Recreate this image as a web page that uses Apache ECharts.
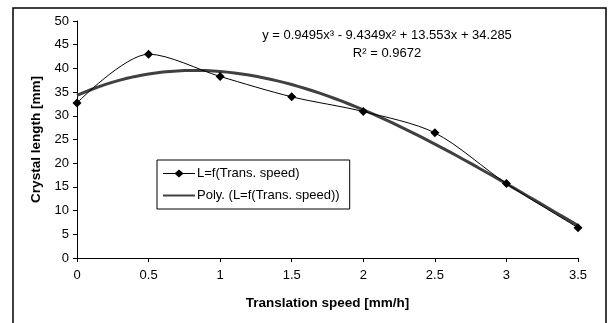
<!DOCTYPE html>
<html>
<head>
<meta charset="utf-8">
<script src="https://cdn.jsdelivr.net/npm/echarts@6/dist/echarts.min.js"></script>
<style>
  html, body { margin: 0; padding: 0; background: #fff; }
  #chart { width: 614px; height: 323px; }
</style>
</head>
<body>
<div id="chart"></div>
<script>
// Measured crystal length against translation speed
var speeds = [0, 0.5, 1, 1.5, 2, 2.5, 3, 3.5];
var lengths = [32.7, 43.0, 38.3, 34.0, 30.9, 26.4, 15.7, 6.4];
var xTicks = [0, 0.5, 1, 1.5, 2, 2.5, 3, 3.5];
var yTicks = [0, 5, 10, 15, 20, 25, 30, 35, 40, 45, 50];

// Cubic trendline coefficients (x^3, x^2, x, const), as printed on the chart
var trendCoeffs = [0.9495, -9.4349, 13.553, 34.285];
var trendR2 = 0.9672;

function polyAt(x) {
  return trendCoeffs[0] * x * x * x + trendCoeffs[1] * x * x + trendCoeffs[2] * x + trendCoeffs[3];
}
var trendPoints = [];
for (var i = 0; i <= 70; i++) {
  var x = i * 0.05;
  trendPoints.push([x, polyAt(x)]);
}

var FONT = '"Liberation Sans", Arial, sans-serif';
var chart = echarts.init(document.getElementById('chart'), null, { renderer: 'canvas' });

// legend icons: thin line with a diamond, and a plain thicker line
var ICON_DATA = 'path://M0,4.5H12L16,1L20,4.5H32V5.5H20L16,9L12,5.5H0Z';
var ICON_TREND = 'path://M0,4H32V6H0Z';

chart.setOption({
  backgroundColor: '#ffffff',
  animation: false,
  grid: { left: 77, right: 36, top: 21, bottom: 65 },
  xAxis: {
    type: 'value',
    min: 0, max: 3.5, interval: 0.5,
    name: 'Translation speed [mm/h]',
    nameLocation: 'middle',
    nameGap: 38,
    nameTextStyle: { fontFamily: FONT, fontSize: 13.5, fontWeight: 'bold', color: '#000' },
    axisLine: { lineStyle: { color: '#000', width: 1 } },
    axisTick: { show: true, length: 4, inside: false, lineStyle: { color: '#000' } },
    axisLabel: { fontFamily: FONT, fontSize: 13, color: '#000', margin: 11,
      formatter: function (v) { return xTicks.indexOf(v) >= 0 ? String(v) : ''; } },
    splitLine: { show: false }
  },
  yAxis: {
    type: 'value',
    min: 0, max: 50, interval: 5,
    name: 'Crystal length [mm]',
    nameLocation: 'middle',
    nameGap: 34,
    nameRotate: 90,
    nameTextStyle: { fontFamily: FONT, fontSize: 13.5, fontWeight: 'bold', color: '#000' },
    axisLine: { show: true, lineStyle: { color: '#000', width: 1 } },
    axisTick: { show: true, length: 4, lineStyle: { color: '#000' } },
    axisLabel: { fontFamily: FONT, fontSize: 13, color: '#000', margin: 8,
      formatter: function (v) { return yTicks.indexOf(v) >= 0 ? String(v) : ''; } },
    splitLine: { show: false }
  },
  legend: {
    orient: 'vertical',
    left: 157, top: 160,
    backgroundColor: '#fff',
    borderColor: '#000',
    borderWidth: 1,
    borderRadius: 0,
    padding: [7, 10, 7, 6],
    itemGap: 9,
    itemWidth: 32,
    itemHeight: 10,
    textStyle: { fontFamily: FONT, fontSize: 13, color: '#000', padding: [0, 0, 0, -3] },
    data: [
      { name: 'L=f(Trans. speed)', icon: ICON_DATA, itemStyle: { color: '#000' } },
      { name: 'Poly. (L=f(Trans. speed))', icon: ICON_TREND, itemStyle: { color: '#404040' } }
    ]
  },
  graphic: [
    {
      type: 'rect',
      shape: { x: 13, y: 8, width: 593, height: 330 },
      style: { fill: 'none', stroke: '#000', lineWidth: 1.5 },
      silent: true, z: 100
    },
    {
      type: 'text',
      style: {
        x: 387, y: 35,
        text: 'y = ' + trendCoeffs[0] + 'x³ - ' + Math.abs(trendCoeffs[1]) + 'x² + ' + trendCoeffs[2] + 'x + ' + trendCoeffs[3],
        font: '13px ' + FONT, fill: '#000', align: 'center', verticalAlign: 'middle'
      },
      z: 100
    },
    {
      type: 'text',
      style: {
        x: 387, y: 53,
        text: 'R² = ' + trendR2,
        font: '13px ' + FONT, fill: '#000', align: 'center', verticalAlign: 'middle'
      },
      z: 100
    }
  ],
  series: [
    {
      name: 'Poly. (L=f(Trans. speed))',
      type: 'line',
      data: trendPoints,
      showSymbol: false,
      symbol: 'none',
      smooth: false,
      lineStyle: { color: '#404040', width: 3 },
      itemStyle: { color: '#404040' },
      z: 2
    },
    {
      name: 'L=f(Trans. speed)',
      type: 'line',
      data: speeds.map(function (s, i) { return [s, lengths[i]]; }),
      smooth: 0.3,
      symbol: 'diamond',
      symbolSize: 9,
      lineStyle: { color: '#000', width: 1 },
      itemStyle: { color: '#000' },
      z: 3
    }
  ]
});
</script>
</body>
</html>
